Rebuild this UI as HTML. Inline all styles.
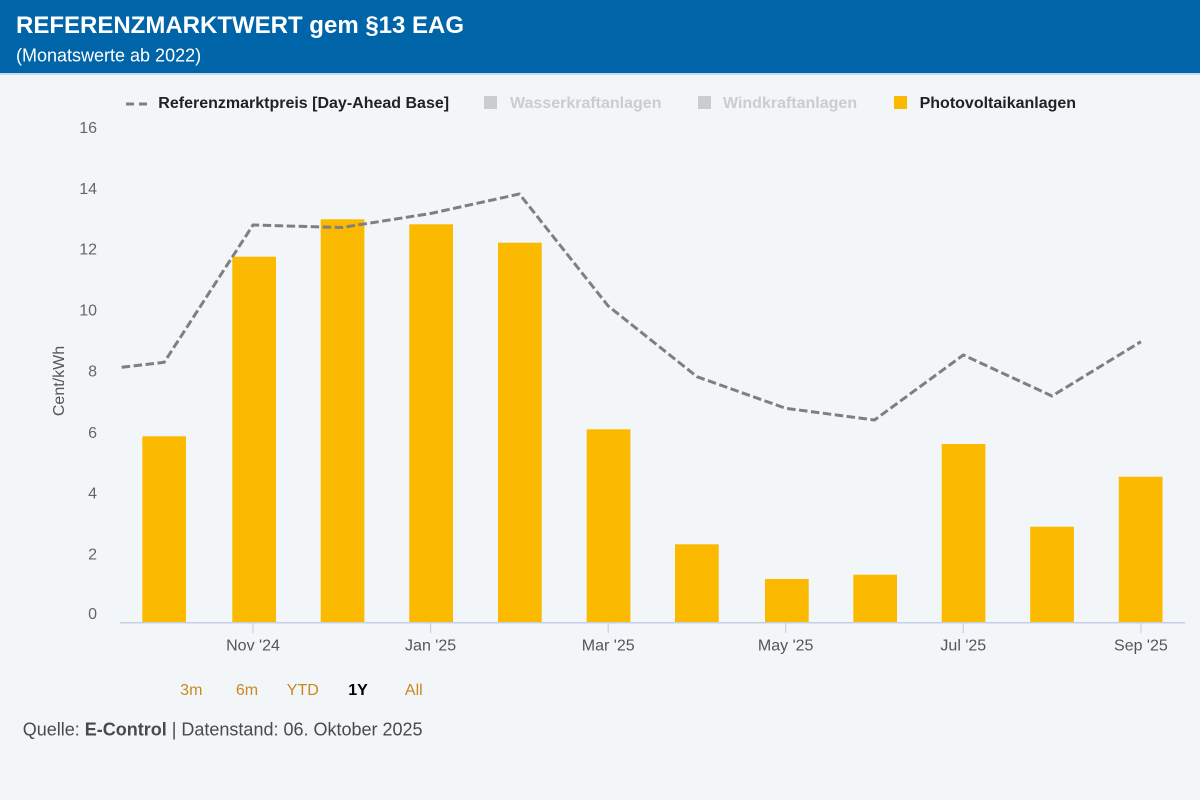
<!DOCTYPE html>
<html>
<head>
<meta charset="utf-8">
<style>
  html, body { margin:0; padding:0; }
  body { width:1200px; height:800px; overflow:hidden; background:#f3f6f9; font-family:"Liberation Sans", Arial, sans-serif; }
  svg { display:block; }
</style>
</head>
<body>
<svg width="1200" height="800" viewBox="0 0 1200 800" xmlns="http://www.w3.org/2000/svg" font-family="Liberation Sans, Arial, sans-serif">
  <rect x="0" y="0" width="1200" height="800" fill="#f3f6f9"/>
  <!-- header -->
  <rect x="0" y="0" width="1200" height="73" fill="#0064a8"/>
  <rect x="0" y="73" width="1200" height="2" fill="#c7dbee"/>
  <text x="16" y="33" font-size="24" font-weight="bold" fill="#ffffff">REFERENZMARKTWERT gem §13 EAG</text>
  <text x="16" y="61.5" font-size="18" fill="#ffffff">(Monatswerte ab 2022)</text>

  <!-- legend -->
  <line x1="126" y1="104" x2="148" y2="104" stroke="#808080" stroke-width="3" stroke-dasharray="8,5"/>
  <text x="158.3" y="108" font-size="16" font-weight="bold" fill="#222">Referenzmarktpreis [Day-Ahead Base]</text>
  <rect x="484" y="96" width="13" height="13" fill="#cccccc"/>
  <text x="510" y="108" font-size="16" font-weight="bold" fill="#cccccc">Wasserkraftanlagen</text>
  <rect x="698" y="96" width="13" height="13" fill="#cccccc"/>
  <text x="723" y="108" font-size="16" font-weight="bold" fill="#cccccc">Windkraftanlagen</text>
  <rect x="894" y="96" width="13" height="13" fill="#fbba00"/>
  <text x="919.6" y="108" font-size="16" font-weight="bold" fill="#222">Photovoltaikanlagen</text>

  <!-- y axis labels -->
  <g font-size="16" fill="#666" text-anchor="end">
    <text x="97" y="133">16</text>
    <text x="97" y="194">14</text>
    <text x="97" y="254.5">12</text>
    <text x="97" y="315.5">10</text>
    <text x="97" y="376.5">8</text>
    <text x="97" y="438">6</text>
    <text x="97" y="498.5">4</text>
    <text x="97" y="559.5">2</text>
    <text x="97" y="619">0</text>
  </g>
  <text transform="translate(64,381) rotate(-90)" font-size="16" fill="#555" text-anchor="middle">Cent/kWh</text>

  <!-- bars -->
  <g fill="#fbba00">
    <rect x="142.3" y="436.3" width="43.7" height="186.4"/>
    <rect x="232.3" y="256.7" width="43.7" height="366"/>
    <rect x="320.7" y="219.3" width="43.7" height="403.4"/>
    <rect x="409.3" y="224.3" width="43.7" height="398.4"/>
    <rect x="498" y="242.7" width="43.7" height="380"/>
    <rect x="586.7" y="429.3" width="43.7" height="193.4"/>
    <rect x="675" y="544.3" width="43.7" height="78.4"/>
    <rect x="765" y="579" width="43.7" height="43.7"/>
    <rect x="853.3" y="574.7" width="43.7" height="48"/>
    <rect x="941.7" y="444" width="43.7" height="178.7"/>
    <rect x="1030.2" y="526.7" width="43.7" height="96"/>
    <rect x="1118.8" y="476.7" width="43.7" height="146"/>
  </g>

  <!-- x axis -->
  <line x1="120" y1="622.7" x2="1185" y2="622.7" stroke="#c5d0e6" stroke-width="1.5"/>
  <g stroke="#c5d0e6" stroke-width="1.2">
    <line x1="253" y1="623" x2="253" y2="633"/>
    <line x1="430.6" y1="623" x2="430.6" y2="633"/>
    <line x1="608.2" y1="623" x2="608.2" y2="633"/>
    <line x1="785.7" y1="623" x2="785.7" y2="633"/>
    <line x1="963.3" y1="623" x2="963.3" y2="633"/>
    <line x1="1140.9" y1="623" x2="1140.9" y2="633"/>
  </g>
  <g font-size="16" fill="#555" text-anchor="middle">
    <text x="253" y="650.7">Nov '24</text>
    <text x="430.6" y="650.7">Jan '25</text>
    <text x="608.2" y="650.7">Mar '25</text>
    <text x="785.7" y="650.7">May '25</text>
    <text x="963.3" y="650.7">Jul '25</text>
    <text x="1140.9" y="650.7">Sep '25</text>
  </g>

  <!-- price line -->
  <polyline fill="none" stroke="#7f7f7f" stroke-width="3" stroke-dasharray="8.5,3.5" stroke-linejoin="round"
    points="121.7,367.3 164.2,362.3 253,225 341.8,227.5 430.6,213.5 519.4,194 608.2,306 697,376.7 785.7,408.3 874.5,420 963.3,355 1052,396 1140.9,341.7"/>

  <!-- range selector -->
  <g font-size="16" text-anchor="middle">
    <text x="191.3" y="695" fill="#c8891c">3m</text>
    <text x="247" y="695" fill="#c8891c">6m</text>
    <text x="302.8" y="695" fill="#c8891c">YTD</text>
    <text x="358" y="695" fill="#000" font-weight="bold">1Y</text>
    <text x="413.8" y="695" fill="#c8891c">All</text>
  </g>

  <!-- source -->
  <text x="22.7" y="735.5" font-size="18" fill="#4a4a4a">Quelle: <tspan font-weight="bold">E-Control</tspan> | Datenstand: 06. Oktober 2025</text>
</svg>
</body>
</html>
